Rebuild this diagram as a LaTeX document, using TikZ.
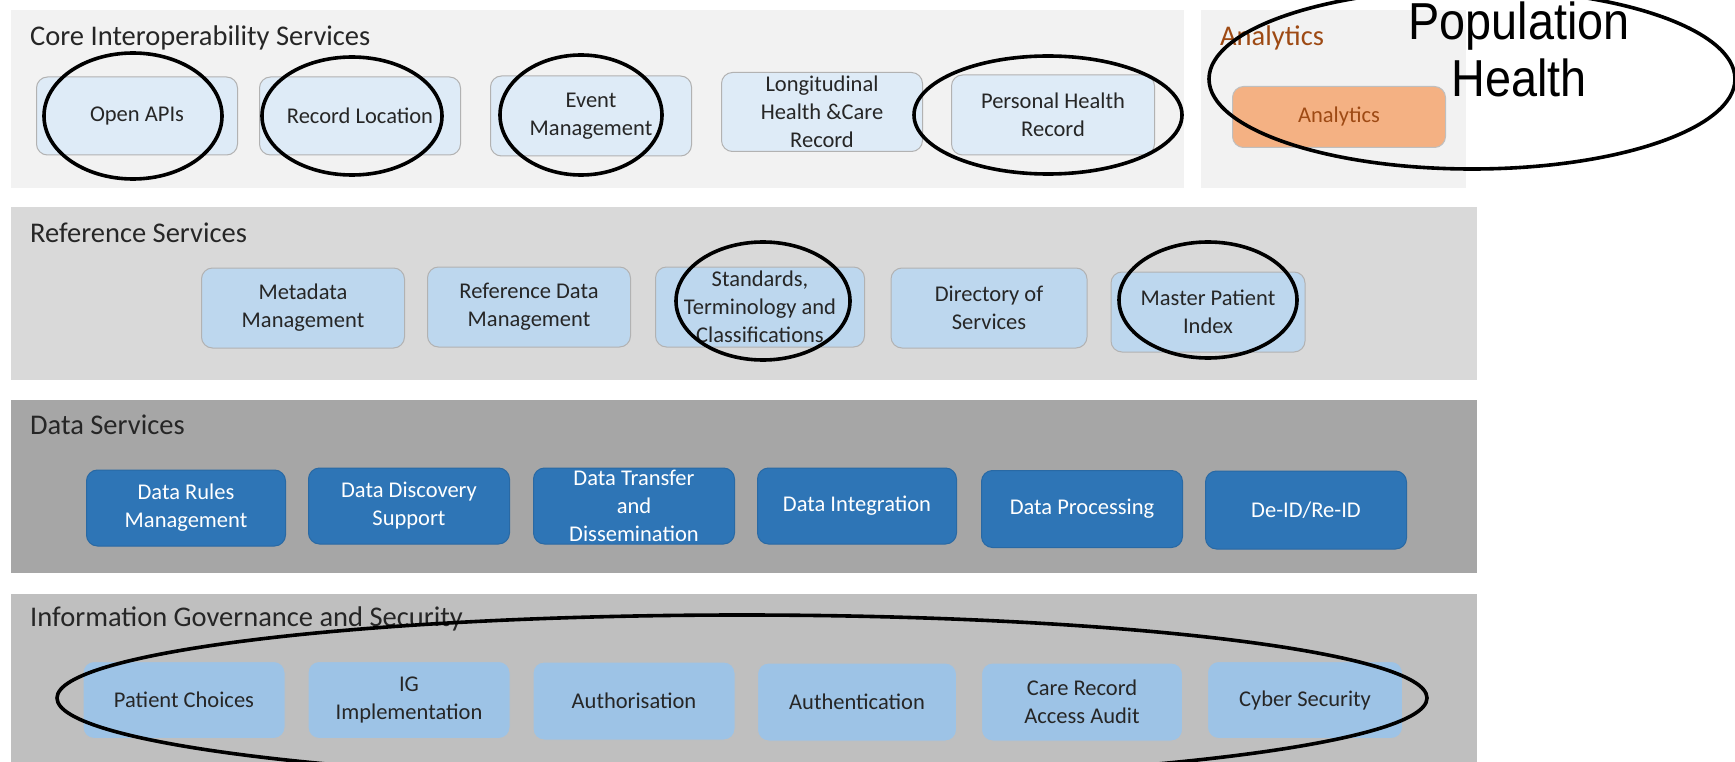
\documentclass[tikz,border=0pt]{standalone}
\usepackage{fontspec}
\setmainfont{Carlito}
\newfontfamily\arialf{Liberation Sans}
\usetikzlibrary{shapes.geometric}
\definecolor{coreFill}{HTML}{F2F2F2}
\definecolor{refFill}{HTML}{D9D9D9}
\definecolor{dataFill}{HTML}{A6A6A6}
\definecolor{igFill}{HTML}{BFBFBF}
\definecolor{lightBox}{HTML}{DEEBF7}
\definecolor{refBox}{HTML}{BDD7EE}
\definecolor{darkBox}{HTML}{2E75B6}
\definecolor{igBox}{HTML}{9DC3E6}
\definecolor{orangeBox}{HTML}{F4B183}
\definecolor{brownText}{HTML}{9E4A14}
\definecolor{boxText}{HTML}{262626}
\begin{document}
\begin{tikzpicture}[x=1pt,y=-1pt,
  panel/.style={fill=#1, draw=white, line width=1.5pt},
  ptitle/.style={anchor=west, inner sep=0pt, text=boxText, font=\fontsize{28.5}{33}\selectfont},
  svc/.style={rounded corners=11pt, draw=black!30, line width=1pt, align=center,
    inner sep=0pt, minimum width=201pt, minimum height=78pt, text=boxText,
    font=\fontsize{22.5}{28}\selectfont},
  core/.style={svc, fill=lightBox},
  refs/.style={svc, fill=refBox, minimum height=80pt},
  datas/.style={svc, fill=darkBox, draw=darkBox!90!black, text=white, minimum height=76pt},
  igs/.style={svc, fill=igBox, draw=black!25, minimum height=77pt},
  ring/.style={draw=black, line width=3.6pt}
]
\useasboundingbox (0,0) rectangle (1735,762);
\fill[white] (0,0) rectangle (1735,762);

% panels
\node[panel=coreFill, draw, inner sep=0, minimum width=1175pt, minimum height=179pt, anchor=north west] (pcore) at (9,9) {};
\node[panel=coreFill, draw, inner sep=0, minimum width=267pt, minimum height=179pt, anchor=north west] (pana) at (1199,9) {};
\node[panel=refFill, draw, inner sep=0, minimum width=1468pt, minimum height=174pt, anchor=north west] (pref) at (9,206) {};
\node[panel=dataFill, draw, inner sep=0, minimum width=1468pt, minimum height=175pt, anchor=north west] (pdata) at (9,398) {};
\node[panel=igFill, draw, inner sep=0, minimum width=1468pt, minimum height=175pt, anchor=north west] (pig) at (9,592) {};

% titles
\node[ptitle] (tcore) at (30,38) {Core Interoperability Services};
\node[ptitle, text=brownText] (tana) at (1220,38) {Analytics};
\node[ptitle] (tref) at (30,233) {Reference Services};
\node[ptitle] (tdata) at (30,425) {Data Services};
\node[ptitle] (tig) at (30,619) {Information Governance and Security};

% core row
\node[core] (api) at (137,116) {Open APIs};
\node[core] (rloc) at (360,116) {Record Location};
\node[core, minimum height=80pt] (evt) at (591,116) {Event\\Management};
\node[core, minimum height=79pt] (lhcr) at (822,112) {Longitudinal\\Health \&Care\\Record};
\node[core, minimum width=203pt, minimum height=80pt] (phr) at (1053,115) {Personal Health\\Record};
\node[svc, fill=orangeBox, draw=black!25, text=brownText, minimum width=213pt, minimum height=61pt] (ana) at (1339,117) {Analytics};

% reference row
\node[refs, minimum width=203pt] (meta) at (303,308) {Metadata\\Management};
\node[refs, minimum width=203pt] (rdm) at (529,307) {Reference Data\\Management};
\node[refs, minimum width=209pt] (std) at (760,307) {Standards,\\Terminology and\\Classifications};
\node[refs, minimum width=196pt] (dos) at (989,308) {Directory of\\Services};
\node[refs, minimum width=194pt] (mpi) at (1208,312) {Master Patient\\Index};

% data row
\node[datas, minimum width=199pt] (drm) at (186,508) {Data Rules\\Management};
\node[datas] (dds) at (409,506) {Data Discovery\\Support};
\node[datas] (dtd) at (634,506) {Data Transfer\\and\\Dissemination};
\node[datas, minimum width=199pt] (dint) at (857,506) {Data Integration};
\node[datas, minimum height=77pt] (dproc) at (1082,509) {Data Processing};
\node[datas, minimum height=78pt] (deid) at (1306,510) {De-ID/Re-ID};

% IG row
\node[igs, minimum width=202pt] (pc) at (184,700) {Patient Choices};
\node[igs, minimum width=202pt] (igi) at (409,700) {IG\\Implementation};
\node[igs, minimum width=202pt, minimum height=78pt] (auz) at (634,701) {Authorisation};
\node[igs, minimum width=199pt, minimum height=78pt] (aun) at (857,702) {Authentication};
\node[igs, minimum width=201pt, minimum height=78pt] (cra) at (1082,702) {Care Record\\Access Audit};
\node[igs, minimum width=195pt] (cyb) at (1305,700) {Cyber Security};

% hand-drawn rings
\draw[ring] (133,116) ellipse [x radius=89, y radius=63];
\draw[ring] (352,116) ellipse [x radius=90, y radius=59];
\draw[ring] (581,115) ellipse [x radius=81, y radius=60];
\draw[ring] (1048,115) ellipse [x radius=134, y radius=59];
\draw[ring] (1472,79) ellipse [x radius=263, y radius=90];
\draw[ring] (763,301) ellipse [x radius=87, y radius=59];
\draw[ring] (1208,300) ellipse [x radius=89, y radius=58];
\draw[ring] (742,698) ellipse [x radius=685, y radius=83];

\node[align=center, inner sep=0pt, font=\arialf\fontsize{52}{57}\selectfont, xscale=0.9] (pop) at (1519,49) {Population\\Health};
\end{tikzpicture}
\end{document}
